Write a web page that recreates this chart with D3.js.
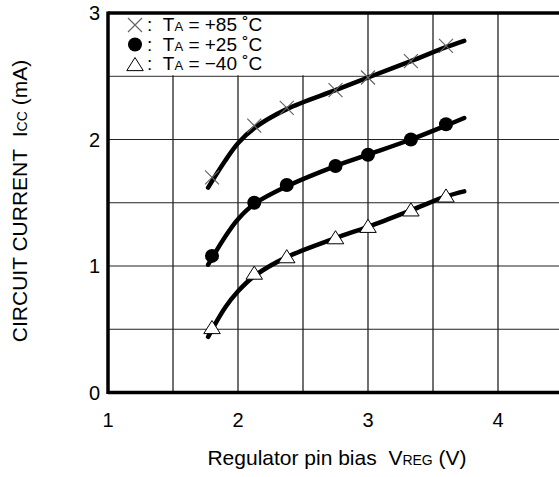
<!DOCTYPE html>
<html>
<head>
<meta charset="utf-8">
<script src="https://cdn.jsdelivr.net/npm/d3@7"></script>
<style>
  body { margin: 0; background: #fff; }
  svg { display: block; font-family: "Liberation Sans", Arial, sans-serif; }
</style>
</head>
<body>
<div id="chart"></div>
<script>
// values
var xTicks = [1, 2, 3, 4];
var yTicks = [0, 1, 2, 3];
var xGrid = [1.5, 2, 2.5, 3, 3.5, 4, 4.5];
var yGrid = [0.5, 1, 1.5, 2, 2.5];

// measured points (markers)
var markV = [1.8, 2.125, 2.375, 2.75, 3.0, 3.33, 3.6];
var mark85 = [1.70, 2.11, 2.25, 2.39, 2.49, 2.62, 2.74];
var mark25 = [1.08, 1.50, 1.64, 1.79, 1.88, 2.00, 2.12];
var markM40 = [0.51, 0.94, 1.07, 1.22, 1.31, 1.44, 1.55];

// fitted curves
var curveV = [1.77, 1.9, 2.0, 2.125, 2.375, 2.75, 3.0, 3.33, 3.6, 3.74];
var curve85 = [1.62, 1.83, 1.97, 2.09, 2.24, 2.39, 2.49, 2.62, 2.73, 2.78];
var curve25 = [1.01, 1.23, 1.37, 1.49, 1.63, 1.79, 1.88, 2.00, 2.11, 2.17];
var curveM40 = [0.44, 0.67, 0.80, 0.92, 1.07, 1.22, 1.31, 1.44, 1.55, 1.59];

var W = 559, H = 477;

var svg = d3.select("#chart").append("svg")
	.attr("width", W)
	.attr("height", H);

// scales (plot runs past the right edge of the picture, as in the original)
var x = d3.scaleLinear().domain([1, 4.5]).range([108, 563]);
var y = d3.scaleLinear().domain([0, 3]).range([392.5, 13]);

// grid
svg.append("g").selectAll("line").data(xGrid).enter().append("line")
	.attr("x1", function(d){ return x(d); })
	.attr("x2", function(d){ return x(d); })
	.attr("y1", y(0))
	.attr("y2", y(3))
	.attr("stroke", "#111")
	.attr("stroke-width", 1.2);
svg.append("g").selectAll("line").data(yGrid).enter().append("line")
	.attr("x1", x(1))
	.attr("x2", W)
	.attr("y1", function(d){ return y(d); })
	.attr("y2", function(d){ return y(d); })
	.attr("stroke", "#222")
	.attr("stroke-width", 1.2);

// legend background hides the grid
svg.append("rect")
	.attr("x", x(1))
	.attr("y", y(3))
	.attr("width", x(3) - x(1) - 2)
	.attr("height", y(2.5) - y(3) - 1)
	.attr("fill", "#fff");

// frame (left, top, bottom)
var frame = svg.append("g").attr("stroke", "#000").attr("stroke-width", 3.5);
frame.append("line").attr("x1", x(1)).attr("x2", x(1)).attr("y1", y(3) - 1.5).attr("y2", y(0) + 1.5);
frame.append("line").attr("x1", x(1)).attr("x2", W).attr("y1", y(3)).attr("y2", y(3));
frame.append("line").attr("x1", x(1)).attr("x2", W).attr("y1", y(0)).attr("y2", y(0));

// tick labels
svg.append("g").selectAll("text").data(xTicks).enter().append("text")
	.attr("x", function(d){ return x(d); })
	.attr("y", y(0) + 34.5)
	.attr("text-anchor", "middle")
	.attr("font-size", "20px")
	.text(function(d){ return d; });
svg.append("g").selectAll("text").data(yTicks).enter().append("text")
	.attr("x", x(1) - 8)
	.attr("y", function(d){ return y(d) + 7; })
	.attr("text-anchor", "end")
	.attr("font-size", "20px")
	.text(function(d){ return d; });

// axis titles
var xt = svg.append("text")
	.attr("x", 337)
	.attr("y", 465)
	.attr("text-anchor", "middle")
	.attr("font-size", "21px");
xt.append("tspan").text("Regulator pin bias\u00a0\u00a0V");
xt.append("tspan").attr("font-size", "14px").text("REG");
xt.append("tspan").text(" (V)");

var yt = svg.append("text")
	.attr("transform", "translate(27,201) rotate(-90)")
	.attr("text-anchor", "middle")
	.attr("font-size", "21px");
yt.append("tspan").text("CIRCUIT CURRENT\u00a0\u00a0I");
yt.append("tspan").attr("font-size", "14px").text("CC");
yt.append("tspan").text(" (mA)");

// curves
var line = d3.line()
	.curve(d3.curveCatmullRom.alpha(0.5))
	.x(function(d){ return x(d[0]); })
	.y(function(d){ return y(d[1]); });

[curve85, curve25, curveM40].forEach(function(c){
	svg.append("path")
		.datum(d3.zip(curveV, c))
		.attr("d", line)
		.attr("fill", "none")
		.attr("stroke", "#000")
		.attr("stroke-width", 4.5)
		.attr("stroke-linecap", "round");
});

// markers
function crossPath(cx, cy, s){
	return "M" + (cx - s) + "," + (cy - s) + "L" + (cx + s) + "," + (cy + s) +
		"M" + (cx - s) + "," + (cy + s) + "L" + (cx + s) + "," + (cy - s);
}
function triPath(cx, cy, s){
	return "M" + cx + "," + (cy - s) + "L" + (cx + s * 1.1) + "," + (cy + s * 0.75) +
		"L" + (cx - s * 1.1) + "," + (cy + s * 0.75) + "Z";
}

svg.append("g").selectAll("path").data(d3.zip(markV, mark85)).enter().append("path")
	.attr("d", function(d){ return crossPath(x(d[0]), y(d[1]), 7); })
	.attr("stroke", "#666")
	.attr("stroke-width", 1.2)
	.attr("fill", "none");

svg.append("g").selectAll("circle").data(d3.zip(markV, mark25)).enter().append("circle")
	.attr("cx", function(d){ return x(d[0]); })
	.attr("cy", function(d){ return y(d[1]); })
	.attr("r", 7)
	.attr("fill", "#000");

svg.append("g").selectAll("path").data(d3.zip(markV, markM40)).enter().append("path")
	.attr("d", function(d){ return triPath(x(d[0]), y(d[1]), 7.5); })
	.attr("fill", "#fff")
	.attr("stroke", "#000")
	.attr("stroke-width", 1);

// legend
var legend = [
	{label: "+85", type: "cross"},
	{label: "+25", type: "dot"},
	{label: "\u221240", type: "tri"}
];
legend.forEach(function(d, i){
	var cy = 25 + i * 19.5;
	if (d.type == "cross") {
		svg.append("path").attr("d", crossPath(135, cy, 7))
			.attr("stroke", "#666").attr("stroke-width", 1.2).attr("fill", "none");
	} else if (d.type == "dot") {
		svg.append("circle").attr("cx", 135).attr("cy", cy).attr("r", 7).attr("fill", "#000");
	} else {
		svg.append("path").attr("d", triPath(135, cy + 1, 7.5))
			.attr("fill", "#fff").attr("stroke", "#000").attr("stroke-width", 1);
	}
	var t = svg.append("text")
		.attr("x", 147)
		.attr("y", cy + 6)
		.attr("font-size", "19px");
	t.append("tspan").text(":\u00a0\u00a0T");
	t.append("tspan").attr("font-size", "13px").text("A");
	t.append("tspan").text(" = " + d.label + " \u02daC");
});
</script>
</body>
</html>
